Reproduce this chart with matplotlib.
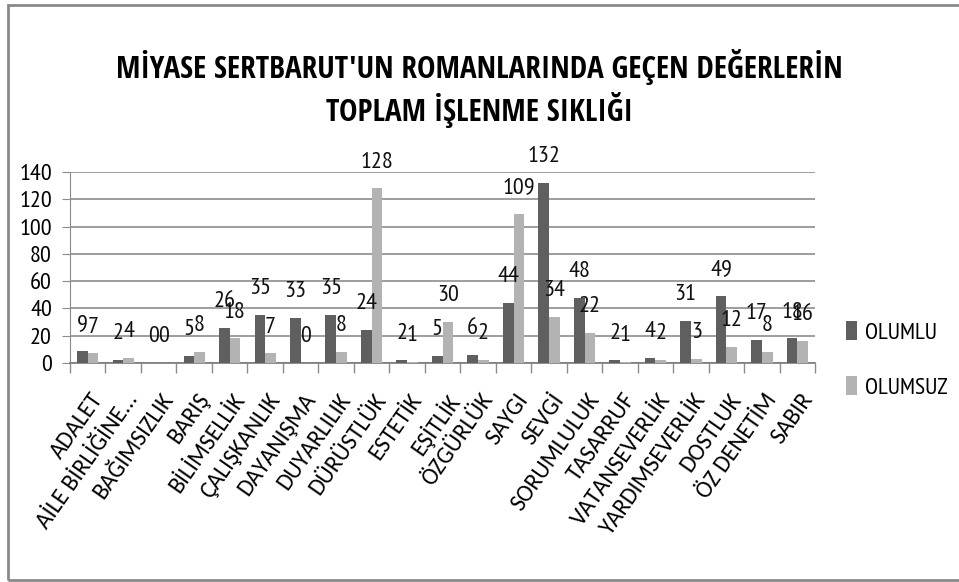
import numpy as np
import matplotlib
matplotlib.use('Agg')
import matplotlib.pyplot as plt
from matplotlib.patches import Rectangle

kategoriler = ['ADALET', 'AİLE BİRLİĞİNE...', 'BAĞIMSIZLIK', 'BARIŞ', 'BİLİMSELLİK',
               'ÇALIŞKANLIK', 'DAYANIŞMA', 'DUYARLILIK', 'DÜRÜSTLÜK', 'ESTETİK',
               'EŞİTLİK', 'ÖZGÜRLÜK', 'SAYGI', 'SEVGİ', 'SORUMLULUK', 'TASARRUF',
               'VATANSEVERLİK', 'YARDIMSEVERLİK', 'DOSTLUK', 'ÖZ DENETİM', 'SABIR']
olumlu = [9, 2, 0, 5, 26, 35, 33, 35, 24, 2, 5, 6, 44, 132, 48, 2, 4, 31, 49, 17, 18]
olumsuz = [7, 4, 0, 8, 18, 7, 0, 8, 128, 1, 30, 2, 109, 34, 22, 1, 2, 3, 12, 8, 16]
y_ticks = [0, 20, 40, 60, 80, 100, 120, 140]

dar = ['PT Sans Narrow', 'DejaVu Sans']
baslik_font = ['Open Sans Condensed', 'DejaVu Sans']
etiket_font = ['Carlito', 'DejaVu Sans']
koyu = '#5f5f5f'
acik = '#b3b3b3'

fig = plt.figure(figsize=(9.59, 5.82), dpi=100)
ax = fig.add_axes([0.073, 0.3763, 0.777, 0.3282])

x = np.arange(len(kategoriler))
w = 0.3
b1 = ax.bar(x - w/2, olumlu, w, color=koyu, label='OLUMLU', zorder=3)
b2 = ax.bar(x + w/2, olumsuz, w, color=acik, label='OLUMSUZ', zorder=3)

# etiketler: çubuk tepesinin üstünde
for bars in (b1, b2):
    for r in bars:
        ax.annotate(str(int(r.get_height())), (r.get_x() + r.get_width()/2, r.get_height()),
                    xytext=(0, 15), textcoords='offset points', ha='center', va='baseline',
                    fontsize=17.5, family=dar, color='#111111')

ax.set_xlim(-0.5, len(kategoriler) - 0.5)
ax.set_ylim(0, 140)
ax.set_yticks(y_ticks)
ax.set_yticklabels([str(v) for v in y_ticks], family=dar, fontsize=17.5)
ax.yaxis.grid(True, color='#8c8c8c', linewidth=1.2, zorder=0)
ax.tick_params(axis='y', length=6, color='#8c8c8c', pad=7)

ax.set_xticks(x + 0.05)
ax.set_xticklabels(kategoriler, rotation=55, ha='right', va='top',
                   rotation_mode='anchor', family=etiket_font, fontsize=17)
ax.tick_params(axis='x', length=0, pad=19)
ax.set_xticks(np.arange(-0.5, len(kategoriler)), minor=True)
ax.tick_params(axis='x', which='minor', length=7, color='#8c8c8c', width=1)

for s in ['top', 'right']:
    ax.spines[s].set_visible(False)
ax.spines['left'].set_color('#8c8c8c')
ax.spines['bottom'].set_color('#7a7a7a')
ax.spines['bottom'].set_linewidth(1.2)

ax.legend(loc='center left', bbox_to_anchor=(846 / 959, 1 - 360 / 582),
          bbox_transform=fig.transFigure, frameon=False, borderpad=0, borderaxespad=0,
          prop={'family': dar, 'size': 17}, handlelength=0.45, handleheight=0.85,
          handletextpad=0.35, labelspacing=1.35)

fig.text(0.5, 1 - 78 / 582, "MİYASE SERTBARUT'UN ROMANLARINDA GEÇEN DEĞERLERİN",
         ha='center', va='baseline', fontsize=22.4, fontweight='bold', family=baslik_font)
fig.text(0.5, 1 - 121 / 582, 'TOPLAM İŞLENME SIKLIĞI',
         ha='center', va='baseline', fontsize=22.4, fontweight='bold', family=baslik_font)

fig.patches.append(Rectangle((0.008, 0.003), 1.2, 0.988, transform=fig.transFigure,
                             fill=False, edgecolor='#8a8a8a', linewidth=2))

fig.savefig('out.png', dpi=100)
